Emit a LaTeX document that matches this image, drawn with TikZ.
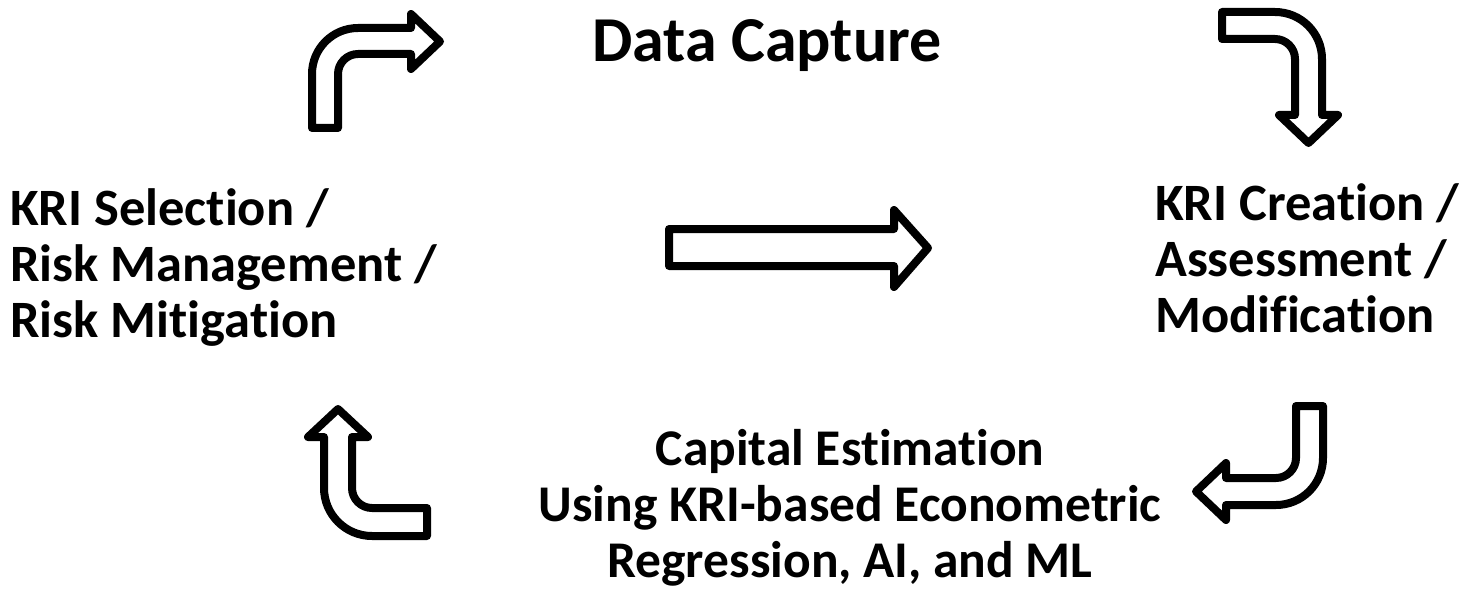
\documentclass[tikz,border=0pt]{standalone}
\usepackage{fontspec}
\setmainfont{Carlito}[Ligatures=NoCommon]
\begin{document}
\begin{tikzpicture}[x=1pt,y=-1pt,
  shapearrow/.style={draw=black, line width=8pt, line join=round, fill=white},
  lbl/.style={inner sep=0pt, font=\fontsize{52.5}{56}\selectfont\bfseries},
  ttl/.style={inner sep=0pt, font=\fontsize{64}{70}\selectfont\bfseries}]
\useasboundingbox (0,0) rectangle (1464,599);

% texts (base anchor of a multi-line node = baseline of its last line)
\node[ttl, anchor=base west] (capture) at (592,62) {Data Capture};
\node[lbl, anchor=base west, align=left] (select) at (10,337)
  {KRI Selection /\\Risk Management /\\Risk Mitigation};
\node[lbl, anchor=base west, align=left] (create) at (1155,332)
  {KRI Creation /\\Assessment /\\Modification};
\node[lbl, anchor=base, align=center, font=\fontsize{51.5}{56}\selectfont\bfseries] (capital) at (850,577)
  {Capital Estimation\\Using KRI-based Econometric\\Regression, AI, and ML};

% top-left bent arrow (up, then right)
\draw[shapearrow] (312,128) -- (338,128) -- (338,74)
  .. controls (338,63) and (347,54) .. (358,54) -- (411,54) -- (411,69)
  -- (440,41.5) -- (411,14) -- (411,28) -- (358,28)
  .. controls (332.6,28) and (312,48.6) .. (312,74) -- cycle;

% top-right bent arrow (right, then down)
\draw[shapearrow] (1222,12) -- (1275,12)
  .. controls (1301,12) and (1322,33) .. (1322,59) -- (1322,115)
  -- (1338,115) -- (1308.5,143) -- (1279,115) -- (1295,115) -- (1295,59)
  .. controls (1295,48) and (1286,39) .. (1275,39) -- (1222,39) -- cycle;

% middle straight arrow
\draw[shapearrow] (669,229) -- (894,229) -- (894,210) -- (928,248)
  -- (894,287) -- (894,266) -- (669,266) -- cycle;

% bottom-right bent arrow (down, then left)
\draw[shapearrow] (1296,406) -- (1323,406) -- (1323,458)
  .. controls (1323,484) and (1302,505) .. (1276,505) -- (1226,505)
  -- (1226,520) -- (1196,491.5) -- (1226,463) -- (1226,478) -- (1276,478)
  .. controls (1287,478) and (1296,469) .. (1296,458) -- cycle;

% bottom-left bent arrow (left, then up)
\draw[shapearrow] (427,508) -- (372,508)
  .. controls (361,508) and (352,499) .. (352,488) -- (352,437)
  -- (368,437) -- (338,409) -- (308,437) -- (324,437) -- (324,488)
  .. controls (324,514.5) and (345.5,536) .. (372,536) -- (427,536) -- cycle;
\end{tikzpicture}
\end{document}
